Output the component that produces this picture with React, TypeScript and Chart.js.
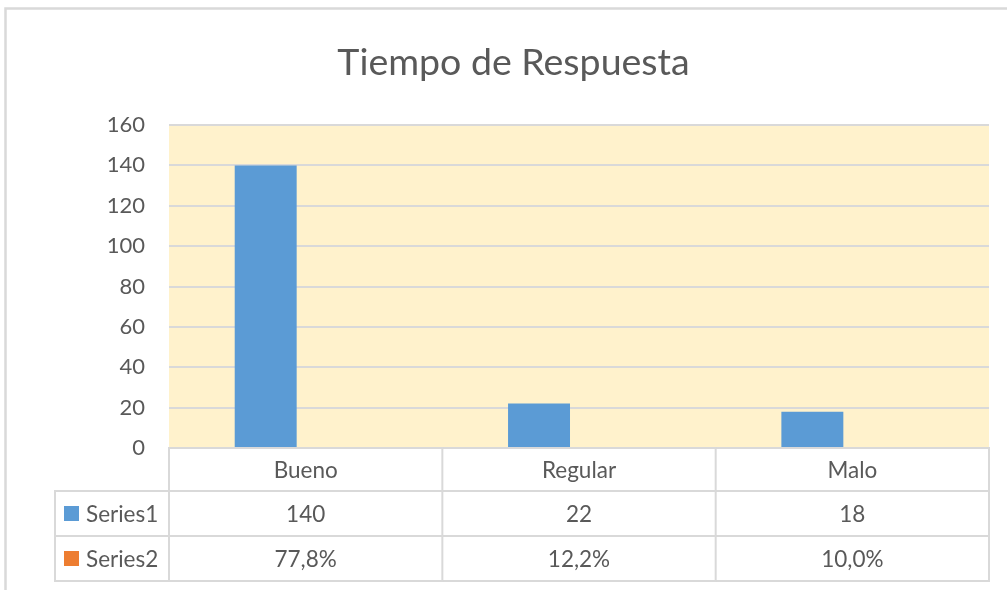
import React, { useEffect, useRef } from 'react';
import { Chart, registerables } from 'chart.js';

Chart.register(...registerables);

const TITLE = 'Tiempo de Respuesta';
const categories = ['Bueno', 'Regular', 'Malo'];
const series1Label = 'Series1';
const series2Label = 'Series2';
const series1 = [140, 22, 18];
const series2 = [0.778, 0.122, 0.1];
const yMin = 0;
const yMax = 160;
const yStep = 20;

const BLUE = '#5B9BD5';
const ORANGE = '#ED7D31';
const TEXT = '#595959';
const GRID = '#D9D9D9';
const PLOT_BG = '#FFF2CC';
const FONT = 'Lato, "Open Sans", sans-serif';

const fmtPct = (v: number) => (v * 100).toFixed(1).replace('.', ',') + '%';

const framePlugin = {
  id: 'frame',
  beforeDraw(chart: any) {
    const { ctx, chartArea: a } = chart;
    ctx.save();
    ctx.fillStyle = '#ffffff';
    ctx.fillRect(0, 0, chart.width, chart.height);
    ctx.fillStyle = PLOT_BG;
    ctx.fillRect(a.left, a.top, a.right - a.left, a.bottom - a.top);
    ctx.strokeStyle = GRID;
    ctx.lineWidth = 2.5;
    ctx.beginPath();
    ctx.moveTo(5.5, chart.height + 5);
    ctx.lineTo(5.5, 8.5);
    ctx.lineTo(chart.width + 5, 8.5);
    ctx.stroke();
    ctx.restore();
  },
};

const tablePlugin = {
  id: 'dataTable',
  afterDatasetsDraw(chart: any) {
    const { ctx, chartArea: a, scales } = chart;
    const x = scales.x;
    const n = categories.length;
    const colW = (a.right - a.left) / n;
    const rowH = [43, 45, 45];
    const top = a.bottom;
    const r1 = top + rowH[0];
    const r2 = r1 + rowH[1];
    const r3 = r2 + rowH[2];
    const labelLeft = 55;
    const line = (x1: number, y1: number, x2: number, y2: number) => {
      ctx.beginPath();
      ctx.moveTo(x1, y1);
      ctx.lineTo(x2, y2);
      ctx.stroke();
    };
    ctx.save();
    ctx.strokeStyle = GRID;
    ctx.lineWidth = 2;
    line(a.left, top, a.right, top);
    line(labelLeft, r1, a.right, r1);
    line(labelLeft, r2, a.right, r2);
    line(labelLeft, r3, a.right, r3);
    for (let i = 0; i <= n; i++) {
      const xx = a.left + i * colW;
      line(xx, top - 1, xx, r3 + 1);
    }
    line(labelLeft, r1 - 1, labelLeft, r3 + 1);

    ctx.fillStyle = TEXT;
    ctx.font = `22.5px ${FONT}`;
    ctx.textAlign = 'center';
    ctx.textBaseline = 'middle';
    categories.forEach((c, i) => {
      const cx = x.getPixelForValue(i);
      ctx.fillText(c, cx, (top + r1) / 2 + 1);
      ctx.fillText(String(series1[i]), cx, (r1 + r2) / 2 + 1);
      ctx.fillText(fmtPct(series2[i]), cx, (r2 + r3) / 2 + 1);
    });

    const keyX = 64;
    const keyS = 15;
    ctx.fillStyle = BLUE;
    ctx.fillRect(keyX, (r1 + r2) / 2 - keyS / 2, keyS, keyS);
    ctx.fillStyle = ORANGE;
    ctx.fillRect(keyX, (r2 + r3) / 2 - keyS / 2, keyS, keyS);
    ctx.fillStyle = TEXT;
    ctx.textAlign = 'left';
    ctx.fillText(series1Label, 86, (r1 + r2) / 2 + 1);
    ctx.fillText(series2Label, 86, (r2 + r3) / 2 + 1);
    ctx.restore();
  },
};

export default function App() {
  const ref = useRef<HTMLCanvasElement | null>(null);
  useEffect(() => {
    if (!ref.current) return;
    const chart = new Chart(ref.current, {
      type: 'bar',
      data: {
        labels: categories,
        datasets: [
          {
            label: series1Label,
            data: series1,
            backgroundColor: BLUE,
            categoryPercentage: 0.585,
            barPercentage: 0.775,
          },
          {
            // fractions plot as sub-pixel bars, invisible in the original
            label: series2Label,
            data: series2,
            backgroundColor: 'rgba(0,0,0,0)',
            categoryPercentage: 0.585,
            barPercentage: 0.775,
          },
        ],
      },
      options: {
        responsive: false,
        animation: false,
        layout: { padding: { left: 38, right: 18, top: 0, bottom: 142 } },
        plugins: {
          legend: { display: false },
          tooltip: { enabled: false },
          title: {
            display: true,
            text: TITLE,
            color: TEXT,
            font: { family: FONT, size: 37.5, weight: 'normal', lineHeight: 1.2 },
            padding: { top: 40, bottom: 40 },
          },
        },
        scales: {
          x: { display: false },
          y: {
            min: yMin,
            max: yMax,
            ticks: {
              stepSize: yStep,
              color: TEXT,
              font: { family: FONT, size: 22 },
              padding: 24,
            },
            grid: { color: GRID, lineWidth: 2, drawTicks: false },
            border: { display: false },
            afterFit(s: any) {
              s.width = 131;
            },
          },
        },
      } as any,
      plugins: [framePlugin, tablePlugin],
    });
    return () => chart.destroy();
  }, []);
  return (
    <div style={{ position: 'fixed', left: 0, top: 0, width: 1007, height: 590, background: '#fff' }}>
      <canvas ref={ref} width={1007} height={590} />
    </div>
  );
}
